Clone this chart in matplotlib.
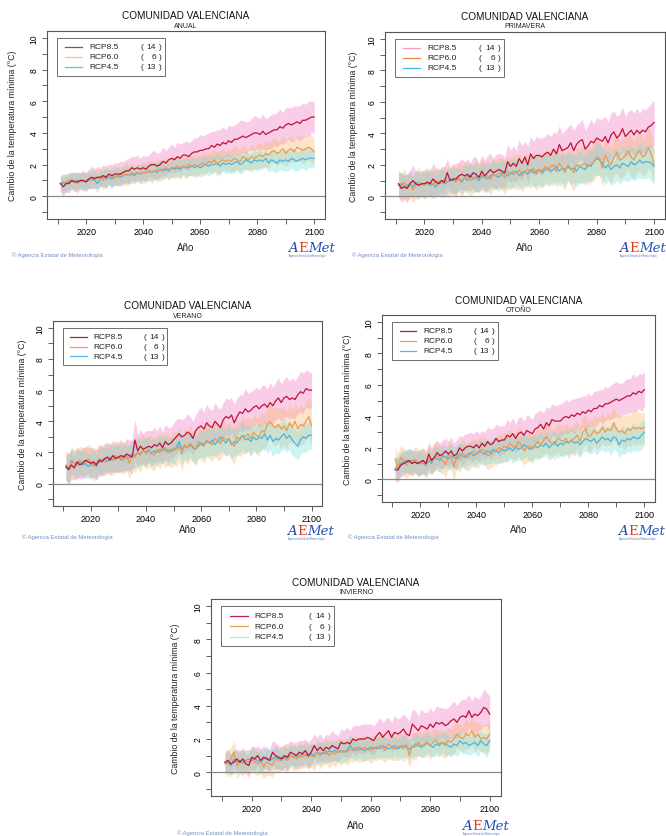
import matplotlib
matplotlib.use('Agg')
import matplotlib.pyplot as plt
from matplotlib.patches import Rectangle
import numpy as np

plt.rcParams['font.family'] = ['Liberation Sans', 'DejaVu Sans']

# ---------------- data ----------------
years = list(range(2011, 2101))
region = 'COMUNIDAD VALENCIANA'
scenarios = ['RCP8.5', 'RCP6.0', 'RCP4.5']
model_counts = [14, 6, 13]
seasons = ['ANUAL', 'PRIMAVERA', 'VERANO', 'OTOÑO', 'INVIERNO']
x_ticks = list(range(2010, 2101, 10))
x_labels = ['', '2020', '', '2040', '', '2060', '', '2080', '', '2100']
y_ticks = list(range(-1, 11))
y_labels = ['', '0', '', '2', '', '4', '', '6', '', '8', '', '10']

# ANUAL  (ensemble mean and half-width of the spread band, °C)
anual_85 = [0.8, 0.6, 0.8, 0.8, 1.0, 0.9, 0.9, 1.0, 1.0, 0.9,
            1.1, 1.2, 1.1, 1.2, 1.2, 1.3, 1.2, 1.4, 1.3, 1.4,
            1.4, 1.4, 1.5, 1.6, 1.6, 1.8, 1.7, 1.8, 1.7, 1.8,
            1.7, 1.9, 2.0, 2.0, 1.9, 2.0, 2.2, 2.1, 2.3, 2.4,
            2.3, 2.5, 2.4, 2.6, 2.6, 2.5, 2.7, 2.8, 2.8, 2.9,
            2.9, 3.0, 3.0, 3.2, 3.1, 3.3, 3.2, 3.4, 3.3, 3.5,
            3.4, 3.6, 3.6, 3.7, 3.8, 3.7, 3.8, 3.9, 4.0, 4.0,
            3.9, 4.1, 3.9, 4.0, 4.1, 4.2, 4.2, 4.4, 4.3, 4.5,
            4.6, 4.5, 4.6, 4.7, 4.6, 4.8, 4.8, 4.9, 5.0, 5.0]
anual_60 = [0.8, 0.8, 0.9, 1.0, 0.9, 1.0, 0.8, 1.0, 0.9, 1.0,
            1.1, 1.0, 1.2, 1.1, 1.2, 1.0, 1.3, 1.2, 1.2, 1.3,
            1.2, 1.4, 1.3, 1.4, 1.3, 1.5, 1.4, 1.5, 1.4, 1.5,
            1.5, 1.6, 1.5, 1.6, 1.7, 1.6, 1.7, 1.8, 1.7, 1.8,
            1.8, 1.9, 1.8, 1.9, 1.8, 2.0, 1.9, 2.0, 1.9, 2.0,
            2.1, 2.0, 2.2, 2.1, 2.3, 2.0, 2.2, 2.3, 2.2, 2.3,
            2.2, 2.4, 2.3, 2.2, 2.5, 2.4, 2.3, 2.5, 2.4, 2.5,
            2.6, 2.5, 2.7, 2.6, 2.8, 2.9, 2.7, 2.8, 3.0, 2.7,
            2.9, 3.0, 2.8, 3.1, 3.0, 2.9, 3.0, 3.1, 3.0, 2.8]
anual_45 = [0.8, 0.9, 0.8, 0.9, 1.0, 0.9, 1.0, 0.9, 1.0, 0.9,
            1.0, 1.1, 1.0, 0.8, 1.1, 1.2, 1.1, 1.2, 1.1, 1.2,
            1.3, 1.2, 1.3, 1.4, 1.3, 1.4, 1.3, 1.5, 1.4, 1.5,
            1.5, 1.6, 1.5, 1.6, 1.5, 1.7, 1.6, 1.7, 1.6, 1.8,
            1.7, 1.8, 1.7, 1.9, 1.8, 1.8, 1.9, 1.8, 1.9, 1.8,
            1.9, 2.0, 1.9, 2.0, 2.0, 2.1, 1.9, 2.1, 2.0, 2.1,
            2.0, 2.1, 2.2, 2.0, 2.1, 2.3, 2.2, 2.1, 2.3, 2.2,
            2.3, 2.2, 2.4, 2.1, 2.3, 2.2, 2.1, 2.3, 2.2, 2.3,
            2.2, 2.4, 2.3, 2.2, 2.3, 2.4, 2.3, 2.4, 2.4, 2.4]
anual_hw85 = [0.5, 0.6, 0.5, 0.6, 0.5, 0.6, 0.6, 0.5, 0.6, 0.6,
              0.6, 0.7, 0.6, 0.7, 0.6, 0.7, 0.7, 0.6, 0.7, 0.7,
              0.7, 0.8, 0.7, 0.7, 0.8, 0.7, 0.8, 0.8, 0.7, 0.8,
              0.8, 0.7, 0.8, 0.9, 0.8, 0.8, 0.9, 0.8, 0.8, 0.9,
              0.8, 0.9, 0.9, 0.8, 0.9, 0.9, 0.8, 0.9, 0.9, 1.0,
              0.9, 0.9, 1.0, 0.9, 1.0, 0.9, 1.0, 1.0, 0.9, 1.0,
              1.0, 0.9, 1.0, 1.1, 1.0, 1.0, 0.9, 1.0, 1.1, 1.0,
              1.0, 1.1, 1.0, 1.0, 1.1, 1.0, 1.1, 1.1, 1.0, 1.1,
              1.0, 1.1, 1.1, 1.0, 1.1, 1.1, 1.0, 1.1, 1.0, 1.0]
anual_hw60 = [0.5, 0.6, 0.5, 0.5, 0.6, 0.5, 0.7, 0.5, 0.6, 0.5,
              0.6, 0.5, 0.6, 0.6, 0.5, 0.6, 0.6, 0.5, 0.6, 0.6,
              0.6, 0.5, 0.6, 0.7, 0.6, 0.6, 0.5, 0.6, 0.6, 0.7,
              0.6, 0.6, 0.7, 0.6, 0.6, 0.7, 0.6, 0.6, 0.7, 0.6,
              0.7, 0.6, 0.7, 0.6, 0.7, 0.7, 0.6, 0.7, 0.7, 0.6,
              0.7, 0.7, 0.6, 0.7, 0.7, 0.8, 0.7, 0.7, 0.6, 0.7,
              0.7, 0.8, 0.7, 0.7, 0.8, 0.7, 0.7, 0.8, 0.7, 0.8,
              0.8, 0.7, 0.8, 0.8, 0.7, 0.8, 0.8, 0.7, 0.9, 0.8,
              0.8, 0.8, 0.7, 0.8, 0.8, 0.9, 0.8, 0.8, 0.9, 0.8]
anual_hw45 = [0.5, 0.5, 0.6, 0.5, 0.5, 0.6, 0.5, 0.5, 0.6, 0.5,
              0.5, 0.6, 0.5, 0.6, 0.5, 0.5, 0.6, 0.5, 0.6, 0.5,
              0.6, 0.5, 0.5, 0.6, 0.5, 0.6, 0.5, 0.5, 0.6, 0.5,
              0.5, 0.6, 0.5, 0.5, 0.6, 0.5, 0.6, 0.5, 0.5, 0.6,
              0.5, 0.6, 0.6, 0.5, 0.6, 0.5, 0.6, 0.6, 0.5, 0.6,
              0.6, 0.5, 0.6, 0.6, 0.5, 0.6, 0.6, 0.5, 0.6, 0.6,
              0.6, 0.6, 0.5, 0.6, 0.6, 0.6, 0.5, 0.6, 0.6, 0.6,
              0.6, 0.5, 0.6, 0.6, 0.6, 0.7, 0.6, 0.6, 0.6, 0.7,
              0.6, 0.6, 0.7, 0.6, 0.6, 0.6, 0.7, 0.6, 0.6, 0.6]

# PRIMAVERA
prim_85 = [0.8, 0.5, 0.6, 0.5, 0.8, 1.0, 0.8, 0.7, 0.8, 0.8,
           0.9, 0.8, 1.1, 0.9, 0.8, 1.0, 0.9, 1.5, 1.0, 1.1,
           1.1, 1.3, 1.4, 1.3, 1.4, 1.2, 1.5, 1.4, 1.2, 1.6,
           1.3, 1.5, 1.7, 1.5, 1.6, 1.7, 1.6, 1.5, 2.2, 1.9,
           2.1, 1.9, 2.4, 2.1, 2.5, 2.0, 2.7, 2.4, 2.6, 2.6,
           2.5, 2.7, 2.8, 2.6, 3.0, 2.7, 3.3, 2.9, 3.0, 3.1,
           3.4, 2.9, 3.3, 3.5, 3.6, 3.0, 3.2, 3.5, 3.4, 3.7,
           3.6, 3.5, 3.8, 3.4, 3.9, 4.1, 3.7, 3.9, 4.3, 3.8,
           4.0, 4.2, 3.9, 4.2, 4.0, 4.2, 4.1, 4.4, 4.5, 4.7]
prim_60 = [0.8, 0.6, 0.9, 0.5, 0.8, 0.4, 0.7, 0.9, 0.8, 0.7,
           0.8, 0.9, 0.7, 1.0, 0.9, 0.8, 1.1, 0.9, 1.0, 1.1,
           0.9, 1.2, 1.0, 1.2, 1.3, 1.0, 1.1, 1.3, 1.2, 1.4,
           1.2, 1.3, 1.1, 1.4, 1.3, 1.5, 1.4, 1.2, 1.6, 1.4,
           1.6, 1.5, 1.7, 1.3, 1.6, 1.7, 1.5, 1.8, 1.4, 1.7,
           1.6, 1.9, 1.7, 1.9, 2.0, 1.6, 2.1, 1.8, 1.5, 2.0,
           1.8, 1.5, 2.0, 1.9, 2.0, 2.1, 1.9, 2.0, 2.2, 2.5,
           2.4, 1.8, 2.6, 2.2, 2.0, 2.5, 2.8, 2.3, 2.4, 2.6,
           2.9, 2.5, 2.3, 2.7, 2.9, 2.5, 2.6, 3.1, 2.7, 2.0]
prim_45 = [0.7, 0.8, 0.6, 0.7, 0.8, 0.6, 0.9, 0.7, 0.8, 0.8,
           0.9, 0.7, 0.8, 0.6, 0.9, 1.0, 0.8, 0.9, 1.1, 1.0,
           1.0, 1.1, 0.9, 1.2, 1.0, 1.4, 1.1, 1.2, 1.0, 1.3,
           1.2, 1.1, 1.3, 1.4, 1.3, 1.2, 1.5, 1.4, 1.3, 1.5,
           1.4, 1.6, 1.3, 1.5, 1.6, 1.4, 1.7, 1.5, 1.6, 1.7,
           1.5, 1.7, 1.8, 1.6, 1.7, 1.9, 1.6, 1.8, 1.7, 1.9,
           1.7, 1.8, 1.6, 1.9, 1.8, 1.7, 2.0, 1.9, 2.2, 2.4,
           2.3, 2.1, 1.8, 2.0, 1.7, 1.9, 2.0, 1.8, 2.1, 2.0,
           1.9, 2.2, 2.0, 2.1, 2.3, 2.1, 2.2, 2.2, 2.1, 1.9]
prim_hw85 = [0.8, 0.9, 0.8, 0.9, 0.8, 1.0, 0.8, 0.9, 0.8, 0.9,
             0.9, 0.8, 1.0, 0.9, 0.8, 0.9, 1.0, 0.9, 0.8, 0.9,
             1.0, 0.9, 1.0, 0.9, 1.0, 0.9, 1.0, 1.1, 0.9, 1.0,
             1.0, 1.1, 1.0, 0.9, 1.1, 1.0, 1.1, 1.0, 1.1, 1.0,
             1.1, 1.0, 1.2, 1.1, 1.0, 1.2, 1.1, 1.1, 1.2, 1.1,
             1.2, 1.1, 1.2, 1.2, 1.1, 1.3, 1.2, 1.1, 1.2, 1.3,
             1.2, 1.3, 1.2, 1.2, 1.3, 1.2, 1.3, 1.4, 1.2, 1.3,
             1.3, 1.4, 1.3, 1.3, 1.4, 1.3, 1.4, 1.3, 1.4, 1.3,
             1.4, 1.3, 1.4, 1.4, 1.3, 1.4, 1.4, 1.3, 1.4, 1.4]
prim_hw60 = [0.9, 0.8, 0.9, 0.8, 0.9, 0.8, 0.9, 0.9, 0.8, 0.9,
             0.8, 0.9, 0.9, 0.8, 0.9, 0.9, 0.8, 0.9, 0.9, 1.0,
             0.9, 0.9, 1.0, 0.9, 0.9, 1.0, 0.9, 1.0, 0.9, 1.0,
             1.0, 0.9, 1.0, 1.0, 0.9, 1.0, 1.0, 1.1, 1.0, 1.0,
             1.0, 1.1, 1.0, 1.0, 1.1, 1.0, 1.0, 1.1, 1.0, 1.1,
             1.1, 1.0, 1.1, 1.1, 1.0, 1.1, 1.1, 1.2, 1.1, 1.0,
             1.1, 1.2, 1.1, 1.1, 1.2, 1.1, 1.2, 1.1, 1.2, 1.2,
             1.1, 1.2, 1.2, 1.1, 1.2, 1.2, 1.3, 1.2, 1.2, 1.2,
             1.2, 1.3, 1.2, 1.2, 1.3, 1.2, 1.2, 1.3, 1.2, 1.2]
prim_hw45 = [0.7, 0.8, 0.7, 0.7, 0.8, 0.7, 0.8, 0.7, 0.7, 0.8,
             0.7, 0.8, 0.8, 0.7, 0.8, 0.7, 0.8, 0.8, 0.7, 0.8,
             0.8, 0.7, 0.8, 0.8, 0.9, 0.8, 0.8, 0.9, 0.8, 0.8,
             0.8, 0.9, 0.8, 0.9, 0.8, 0.9, 0.9, 0.8, 0.9, 0.9,
             0.9, 0.8, 0.9, 0.9, 0.9, 0.8, 0.9, 0.9, 1.0, 0.9,
             0.9, 1.0, 0.9, 0.9, 1.0, 0.9, 1.0, 0.9, 1.0, 0.9,
             1.0, 0.9, 1.0, 1.0, 0.9, 1.0, 1.0, 1.0, 0.9, 1.0,
             1.0, 1.0, 1.1, 1.0, 1.0, 1.1, 1.0, 1.0, 1.1, 1.0,
             1.0, 1.1, 1.0, 1.0, 1.1, 1.0, 1.1, 1.0, 1.1, 1.1]

# VERANO
ver_85 = [1.1, 0.9, 1.2, 1.0, 1.4, 1.2, 1.3, 1.5, 1.4, 1.3,
          1.4, 1.2, 1.5, 1.4, 1.6, 1.7, 1.5, 1.8, 1.6, 1.7,
          1.8, 1.7, 1.9, 1.8, 1.7, 2.8, 2.1, 2.4, 2.2, 2.3,
          2.4, 2.3, 2.5, 2.4, 2.6, 2.3, 2.7, 2.5, 2.6, 2.8,
          3.0, 3.2, 3.0, 3.1, 3.3, 3.2, 2.9, 3.4, 3.6, 3.7,
          3.5, 3.9, 3.7, 3.6, 4.0, 3.8, 3.6, 4.1, 4.3, 4.2,
          4.4, 3.9, 4.3, 4.6, 4.5, 4.8, 4.6, 4.7, 4.9, 5.0,
          4.8, 5.0, 5.1, 4.9, 5.2, 5.0, 5.3, 5.5, 5.2, 5.5,
          5.6, 5.4, 5.5, 5.4, 5.7, 5.9, 5.8, 6.1, 6.0, 6.0]
ver_60 = [1.2, 1.0, 1.4, 1.3, 1.2, 1.5, 1.4, 1.3, 1.6, 1.4,
          1.1, 1.3, 1.6, 1.5, 1.4, 1.7, 1.6, 1.5, 1.8, 1.6,
          1.7, 1.5, 1.8, 1.3, 1.9, 1.7, 2.0, 1.8, 2.2, 1.9,
          2.1, 2.0, 1.8, 2.2, 2.0, 2.3, 2.1, 2.2, 2.0, 2.3,
          2.2, 2.4, 1.9, 2.5, 2.3, 2.6, 2.4, 2.2, 2.7, 2.5,
          2.4, 2.8, 2.6, 2.5, 2.9, 2.7, 2.6, 3.0, 2.8, 2.9,
          2.6, 2.4, 3.0, 2.8, 3.1, 3.0, 3.2, 2.9, 3.3, 3.1,
          3.0, 3.4, 3.3, 3.8, 4.0, 3.7, 3.6, 3.8, 3.5, 3.7,
          3.4, 3.9, 3.6, 4.0, 3.5, 3.8, 3.7, 4.0, 4.3, 3.7]
ver_45 = [1.0, 0.9, 1.5, 1.3, 1.2, 1.4, 1.2, 1.3, 1.1, 1.2,
          1.3, 1.1, 1.4, 1.5, 1.6, 1.4, 1.7, 1.5, 1.6, 1.7,
          1.5, 1.8, 1.6, 1.7, 1.9, 1.8, 2.0, 1.9, 2.1, 2.0,
          2.2, 1.9, 2.1, 2.0, 2.2, 2.1, 2.3, 2.0, 2.2, 2.1,
          2.3, 2.7, 2.2, 2.4, 2.3, 2.5, 2.3, 2.2, 2.4, 2.6,
          2.5, 2.7, 2.6, 2.8, 2.5, 2.7, 3.0, 2.8, 2.6, 2.9,
          2.5, 2.7, 2.6, 2.9, 3.1, 2.8, 2.9, 2.7, 3.0, 2.8,
          3.0, 2.9, 3.2, 2.8, 3.1, 2.7, 2.9, 2.8, 3.0, 3.2,
          2.9, 3.1, 2.8, 2.6, 2.4, 2.8, 3.0, 2.9, 3.1, 3.1]
ver_hw85 = [0.9, 1.0, 0.9, 0.8, 1.0, 0.9, 1.0, 0.9, 0.9, 1.0,
            0.9, 1.0, 1.0, 0.9, 1.0, 0.9, 1.0, 1.0, 0.9, 1.0,
            1.0, 0.9, 1.0, 1.0, 1.1, 1.3, 1.0, 1.1, 1.0, 1.1,
            1.0, 1.1, 1.1, 1.0, 1.1, 1.0, 1.1, 1.1, 1.0, 1.1,
            1.1, 1.0, 1.1, 1.1, 1.2, 1.1, 1.1, 1.0, 1.1, 1.2,
            1.1, 1.2, 1.1, 1.1, 1.2, 1.1, 1.2, 1.1, 1.2, 1.2,
            1.1, 1.2, 1.2, 1.1, 1.2, 1.3, 1.2, 1.2, 1.1, 1.2,
            1.2, 1.3, 1.2, 1.2, 1.3, 1.2, 1.2, 1.3, 1.2, 1.2,
            1.3, 1.2, 1.3, 1.2, 1.2, 1.3, 1.3, 1.2, 1.2, 1.1]
ver_hw60 = [0.9, 1.0, 0.9, 0.9, 1.0, 0.9, 0.9, 1.0, 0.9, 1.0,
            1.0, 0.9, 0.9, 1.0, 0.9, 1.0, 0.9, 1.0, 1.0, 0.9,
            1.0, 0.9, 1.0, 1.0, 0.9, 1.0, 1.0, 1.1, 1.0, 1.0,
            1.0, 1.1, 1.0, 1.0, 1.1, 1.0, 1.1, 1.0, 1.0, 1.1,
            1.1, 1.0, 1.1, 1.0, 1.1, 1.1, 1.0, 1.1, 1.1, 1.0,
            1.1, 1.1, 1.0, 1.1, 1.1, 1.2, 1.1, 1.1, 1.0, 1.1,
            1.1, 1.2, 1.1, 1.1, 1.2, 1.1, 1.1, 1.2, 1.1, 1.2,
            1.2, 1.1, 1.2, 1.2, 1.1, 1.2, 1.2, 1.1, 1.3, 1.2,
            1.2, 1.2, 1.1, 1.2, 1.2, 1.3, 1.2, 1.2, 1.3, 1.2]
ver_hw45 = [0.8, 0.9, 0.8, 0.8, 0.9, 0.8, 0.8, 0.9, 0.8, 0.8,
            0.9, 0.8, 0.8, 0.9, 0.8, 0.8, 0.9, 0.8, 0.9, 0.8,
            0.8, 0.9, 0.8, 0.8, 0.9, 0.8, 0.9, 0.8, 0.8, 0.9,
            0.8, 0.8, 0.9, 0.8, 0.9, 0.8, 0.8, 0.9, 0.8, 0.9,
            0.8, 0.9, 0.9, 0.8, 0.9, 0.8, 0.9, 0.9, 0.8, 0.9,
            0.9, 0.8, 0.9, 0.9, 0.8, 0.9, 0.9, 0.8, 0.9, 0.9,
            0.9, 0.9, 0.8, 0.9, 0.9, 0.9, 0.8, 0.9, 0.9, 0.9,
            0.9, 0.8, 0.9, 0.9, 0.9, 1.0, 0.9, 0.9, 0.9, 1.0,
            0.9, 0.9, 1.0, 0.9, 0.9, 0.9, 1.0, 0.9, 0.9, 0.9]

# OTOÑO
oto_85 = [0.6, 0.6, 0.9, 1.0, 1.1, 1.2, 1.0, 1.1, 1.0, 1.1,
          1.2, 1.0, 1.6, 1.2, 1.4, 1.7, 1.5, 1.6, 1.8, 1.6,
          1.8, 1.5, 1.6, 2.0, 1.8, 2.0, 2.1, 2.1, 2.0, 2.2,
          2.0, 2.3, 2.1, 2.4, 2.2, 2.3, 2.6, 2.4, 2.5, 2.5,
          2.8, 2.7, 2.9, 2.6, 2.9, 3.0, 2.8, 3.1, 3.0, 2.9,
          3.2, 3.3, 3.5, 3.2, 3.6, 3.4, 3.8, 3.7, 3.7, 3.7,
          3.9, 4.0, 3.9, 4.1, 4.0, 4.2, 4.1, 4.3, 4.2, 4.4,
          4.3, 4.5, 4.5, 4.7, 4.6, 4.8, 4.8, 4.9, 5.0, 5.1,
          5.0, 5.1, 5.2, 5.3, 5.3, 5.5, 5.4, 5.6, 5.5, 5.7]
oto_60 = [1.3, 0.7, 1.4, 1.2, 0.9, 1.1, 1.0, 1.3, 1.1, 1.0,
          1.2, 0.9, 1.3, 1.1, 1.4, 1.5, 1.3, 1.2, 0.9, 1.6,
          1.4, 0.8, 1.5, 1.3, 1.7, 1.5, 1.4, 1.6, 1.8, 1.6,
          1.7, 1.9, 1.8, 1.5, 1.6, 1.7, 1.8, 2.0, 1.9, 2.1,
          2.0, 2.3, 2.1, 2.0, 2.4, 2.2, 1.8, 2.0, 2.1, 1.9,
          2.2, 2.4, 2.2, 2.5, 2.7, 2.4, 2.3, 2.2, 2.6, 2.5,
          2.4, 2.6, 2.3, 2.5, 2.6, 2.8, 2.4, 3.0, 3.2, 2.7,
          2.8, 3.1, 2.9, 3.0, 3.3, 3.0, 3.2, 3.1, 3.6, 3.2,
          3.0, 3.1, 2.9, 3.2, 3.1, 3.3, 3.2, 3.3, 3.2, 3.3]
oto_45 = [0.7, 0.8, 1.0, 1.1, 1.2, 1.1, 1.2, 1.1, 1.0, 1.1,
          1.0, 0.9, 1.2, 1.0, 1.4, 1.3, 1.2, 1.5, 1.4, 1.3,
          1.5, 1.4, 1.3, 1.6, 1.5, 1.4, 1.6, 1.7, 1.5, 1.6,
          1.8, 1.7, 1.6, 1.8, 1.7, 1.9, 1.8, 1.7, 1.9, 1.8,
          1.9, 2.0, 1.8, 2.1, 1.9, 2.0, 2.2, 2.1, 1.9, 2.0,
          2.1, 2.0, 2.2, 2.1, 2.3, 2.0, 2.2, 2.4, 2.1, 2.3,
          2.2, 2.4, 2.3, 2.5, 2.3, 2.4, 2.2, 2.4, 2.6, 2.5,
          2.4, 2.6, 2.3, 2.5, 2.7, 2.5, 2.6, 2.4, 2.7, 2.6,
          2.2, 2.5, 2.4, 2.6, 2.5, 2.7, 2.6, 2.6, 2.8, 3.0]
oto_hw85 = [0.7, 0.8, 0.7, 0.8, 0.7, 0.8, 0.8, 0.7, 0.8, 0.8,
            0.8, 0.7, 0.8, 0.8, 0.9, 0.8, 0.8, 0.9, 0.8, 0.8,
            0.9, 0.8, 0.9, 0.8, 0.9, 0.9, 0.8, 0.9, 0.9, 0.9,
            0.9, 0.8, 0.9, 0.9, 1.0, 0.9, 0.9, 1.0, 0.9, 0.9,
            1.0, 0.9, 1.0, 0.9, 1.0, 1.0, 0.9, 1.0, 1.0, 0.9,
            1.0, 1.0, 0.9, 1.0, 1.0, 1.1, 1.0, 1.0, 1.0, 1.1,
            1.0, 1.1, 1.0, 1.0, 1.1, 1.0, 1.1, 1.0, 1.1, 1.1,
            1.0, 1.1, 1.1, 1.0, 1.1, 1.1, 1.0, 1.1, 1.1, 1.1,
            1.1, 1.0, 1.1, 1.1, 1.1, 1.2, 1.1, 1.1, 1.2, 1.1]
oto_hw60 = [0.8, 0.9, 0.8, 0.8, 0.9, 0.8, 0.8, 0.8, 0.9, 0.8,
            0.8, 0.9, 0.8, 0.8, 0.9, 0.8, 0.9, 0.8, 0.8, 0.9,
            0.8, 0.9, 0.8, 0.9, 0.9, 0.8, 0.9, 0.9, 0.8, 0.9,
            0.9, 0.8, 0.9, 0.9, 0.9, 0.8, 0.9, 0.9, 0.9, 0.9,
            0.9, 0.9, 0.8, 0.9, 0.9, 1.0, 0.9, 0.9, 0.9, 0.9,
            0.9, 1.0, 0.9, 0.9, 1.0, 0.9, 0.9, 1.0, 0.9, 1.0,
            0.9, 1.0, 1.0, 0.9, 1.0, 0.9, 1.0, 1.0, 0.9, 1.0,
            1.0, 0.9, 1.0, 1.0, 1.0, 0.9, 1.0, 1.0, 1.1, 1.0,
            1.0, 1.0, 1.1, 1.0, 1.0, 1.0, 1.1, 1.0, 1.0, 1.0]
oto_hw45 = [0.7, 0.7, 0.8, 0.7, 0.7, 0.8, 0.7, 0.7, 0.7, 0.8,
            0.7, 0.7, 0.8, 0.7, 0.7, 0.8, 0.7, 0.8, 0.7, 0.7,
            0.8, 0.7, 0.7, 0.8, 0.7, 0.8, 0.7, 0.7, 0.8, 0.7,
            0.7, 0.8, 0.7, 0.8, 0.7, 0.8, 0.8, 0.7, 0.8, 0.7,
            0.8, 0.7, 0.8, 0.8, 0.7, 0.8, 0.8, 0.7, 0.8, 0.8,
            0.7, 0.8, 0.8, 0.7, 0.8, 0.8, 0.8, 0.7, 0.8, 0.8,
            0.8, 0.8, 0.7, 0.8, 0.8, 0.8, 0.8, 0.7, 0.8, 0.8,
            0.8, 0.8, 0.8, 0.7, 0.8, 0.8, 0.8, 0.9, 0.8, 0.8,
            0.8, 0.9, 0.8, 0.8, 0.8, 0.9, 0.8, 0.8, 0.9, 0.8]

# INVIERNO
inv_85 = [0.6, 0.7, 0.5, 0.6, 0.8, 0.6, 0.8, 0.5, 0.4, 0.9,
          0.8, 1.0, 0.7, 0.9, 0.8, 0.7, 1.2, 1.0, 0.9, 0.8,
          1.0, 0.9, 1.2, 1.1, 1.0, 1.2, 1.1, 1.3, 1.0, 1.2,
          1.6, 1.3, 1.5, 1.3, 1.5, 1.4, 1.6, 1.5, 1.4, 1.8,
          1.7, 1.8, 1.7, 2.0, 1.9, 2.0, 2.0, 2.0, 2.1, 2.0,
          1.9, 2.2, 2.4, 2.1, 2.3, 2.5, 2.1, 2.4, 2.3, 2.4,
          2.6, 2.3, 2.2, 2.9, 2.7, 2.5, 2.8, 2.7, 2.6, 2.9,
          2.7, 3.0, 2.9, 3.0, 2.8, 2.9, 3.1, 3.2, 3.0, 3.3,
          3.4, 3.3, 3.7, 3.3, 3.5, 3.4, 3.6, 3.9, 3.8, 3.5]
inv_60 = [0.6, 0.5, 0.8, 1.2, 0.4, 0.6, 0.5, 0.7, 0.6, 0.8,
          0.6, 0.5, 0.7, 0.3, 0.6, 0.5, 0.4, 0.8, 0.7, 0.9,
          0.8, 0.7, 1.0, 0.9, 0.8, 1.0, 0.9, 1.1, 0.9, 1.0,
          0.9, 1.2, 1.0, 1.1, 1.3, 1.0, 1.2, 1.1, 1.3, 1.2,
          1.3, 1.2, 1.4, 1.3, 1.5, 1.3, 1.4, 1.5, 1.4, 1.3,
          1.5, 1.4, 1.6, 1.5, 1.3, 1.7, 1.5, 1.4, 1.5, 1.6,
          1.4, 1.7, 1.0, 1.6, 1.5, 1.8, 1.6, 1.7, 1.8, 1.6,
          1.8, 1.9, 1.7, 1.8, 1.6, 1.9, 1.8, 2.0, 2.3, 2.1,
          2.0, 2.3, 2.2, 2.5, 2.1, 2.3, 2.0, 2.1, 2.0, 2.3]
inv_45 = [0.5, 0.6, 0.4, 0.8, 0.6, 0.7, 0.6, 0.7, 0.8, 0.7,
          0.8, 0.7, 0.6, 0.8, 0.9, 0.7, 0.8, 0.9, 0.8, 0.7,
          0.9, 0.8, 1.0, 0.9, 1.0, 0.9, 1.1, 1.0, 1.0, 1.1,
          1.0, 1.2, 1.1, 1.2, 1.1, 1.3, 1.2, 1.3, 1.2, 1.3,
          1.2, 1.3, 1.6, 1.4, 1.3, 1.5, 1.4, 1.3, 1.4, 1.5,
          1.4, 1.5, 1.4, 1.6, 1.5, 1.4, 1.5, 1.6, 1.4, 1.5,
          1.6, 1.5, 1.4, 1.5, 1.7, 1.6, 1.5, 1.6, 1.8, 1.6,
          1.5, 1.7, 1.6, 1.8, 1.7, 1.6, 1.5, 1.7, 1.6, 1.9,
          1.7, 1.8, 1.6, 1.7, 1.8, 1.6, 1.9, 1.7, 1.6, 1.9]
inv_hw85 = [0.6, 0.7, 0.6, 0.7, 0.6, 0.7, 0.7, 0.6, 0.7, 0.7,
            0.7, 0.6, 0.7, 0.7, 0.6, 0.7, 0.7, 0.8, 0.7, 0.7,
            0.7, 0.8, 0.7, 0.7, 0.8, 0.7, 0.8, 0.7, 0.8, 0.8,
            0.7, 0.8, 0.8, 0.7, 0.8, 0.8, 0.9, 0.8, 0.8, 0.8,
            0.8, 0.9, 0.8, 0.8, 0.9, 0.8, 0.9, 0.9, 0.8, 0.9,
            0.9, 0.8, 0.9, 0.9, 0.9, 0.8, 0.9, 1.0, 0.9, 0.9,
            0.9, 1.0, 0.9, 0.9, 1.0, 0.9, 1.0, 0.9, 1.0, 1.0,
            0.9, 1.0, 1.0, 0.9, 1.0, 1.0, 1.0, 1.1, 1.0, 1.0,
            1.0, 1.1, 1.0, 1.0, 1.1, 1.0, 1.0, 1.1, 1.0, 1.1]
inv_hw60 = [0.7, 0.8, 0.7, 0.7, 0.8, 0.7, 0.8, 0.7, 0.7, 0.8,
            0.7, 0.7, 0.8, 0.7, 0.8, 0.7, 0.7, 0.8, 0.7, 0.7,
            0.8, 0.7, 0.7, 0.8, 0.7, 0.8, 0.7, 0.8, 0.7, 0.7,
            0.8, 0.7, 0.8, 0.7, 0.8, 0.8, 0.7, 0.8, 0.7, 0.8,
            0.7, 0.8, 0.8, 0.7, 0.8, 0.7, 0.8, 0.8, 0.7, 0.8,
            0.8, 0.7, 0.8, 0.8, 0.7, 0.8, 0.8, 0.7, 0.8, 0.8,
            0.8, 0.8, 0.7, 0.8, 0.8, 0.8, 0.7, 0.8, 0.8, 0.8,
            0.8, 0.7, 0.8, 0.8, 0.8, 0.8, 0.8, 0.9, 0.8, 0.8,
            0.8, 0.9, 0.8, 0.8, 0.9, 0.8, 0.8, 0.8, 0.9, 0.8]
inv_hw45 = [0.6, 0.6, 0.7, 0.6, 0.6, 0.6, 0.7, 0.6, 0.6, 0.6,
            0.7, 0.6, 0.6, 0.6, 0.7, 0.6, 0.6, 0.7, 0.6, 0.6,
            0.6, 0.7, 0.6, 0.6, 0.6, 0.7, 0.6, 0.6, 0.7, 0.6,
            0.6, 0.6, 0.7, 0.6, 0.6, 0.7, 0.6, 0.6, 0.6, 0.7,
            0.6, 0.6, 0.7, 0.6, 0.6, 0.6, 0.7, 0.6, 0.6, 0.7,
            0.6, 0.6, 0.6, 0.7, 0.6, 0.6, 0.7, 0.6, 0.6, 0.6,
            0.7, 0.6, 0.6, 0.6, 0.7, 0.6, 0.6, 0.7, 0.6, 0.6,
            0.6, 0.7, 0.6, 0.6, 0.7, 0.6, 0.6, 0.6, 0.7, 0.6,
            0.6, 0.7, 0.6, 0.6, 0.6, 0.7, 0.6, 0.6, 0.7, 0.6]

means = [[anual_85, anual_60, anual_45],
         [prim_85, prim_60, prim_45],
         [ver_85, ver_60, ver_45],
         [oto_85, oto_60, oto_45],
         [inv_85, inv_60, inv_45]]
halfw = [[anual_hw85, anual_hw60, anual_hw45],
         [prim_hw85, prim_hw60, prim_hw45],
         [ver_hw85, ver_hw60, ver_hw45],
         [oto_hw85, oto_hw60, oto_hw45],
         [inv_hw85, inv_hw60, inv_hw45]]

# ---------------- style / layout ----------------
line_colors = ['#BE1238', '#EE9A4D', '#48B4E4']
fill_colors = ['#F07CC4', '#F7B466', '#6ADCDC']
fill_alpha = [0.38, 0.35, 0.33]
legend_colors = [['#B03A5B', '#F0C878', '#50C8E0'],
                 ['#F4A0C0', '#E89040', '#40B8E8'],
                 ['#B0203C', '#F0A050', '#50B8E8'],
                 ['#B0203C', '#F0A050', '#50B8E8'],
                 ['#C02040', '#F0A040', '#B0E8F0']]

W, H = 666, 837
# per panel: axes (left, top, right, bottom) px, title y, subtitle y, xlabel y,
# ylabel x, footer (x, y), logo (x, baseline y)
layout = [
    dict(ax=(47, 32, 325, 220), t=16, s=26, xl=248, yl=13, ft=(12, 255), lg=(288, 252)),
    dict(ax=(385, 33, 665, 220), t=17, s=27, xl=248, yl=353, ft=(352, 255), lg=(619, 252)),
    dict(ax=(53, 322, 322, 507), t=306, s=317, xl=530, yl=23, ft=(22, 537), lg=(287, 535)),
    dict(ax=(382, 316, 655, 503), t=301, s=311, xl=530, yl=348, ft=(348, 537), lg=(618, 535)),
    dict(ax=(211, 600, 501, 797), t=583, s=593, xl=826, yl=176, ft=(177, 833), lg=(462, 830)),
]

fig = plt.figure(figsize=(W / 100, H / 100), dpi=100)
renderer = fig.canvas.get_renderer()


def fx(x):
    return x / W


def fy(y):
    return 1 - y / H


def draw_logo(x, y):
    parts = [('A', '#22409A', 'italic'), ('E', '#E23A1E', 'normal'),
             ('Met', '#2455B5', 'italic')]
    cur = x
    for txt, col, sty in parts:
        tt = fig.text(fx(cur), fy(y), txt, color=col, fontsize=9.5, style=sty,
                      family='DejaVu Serif', va='baseline', ha='left')
        bb = tt.get_window_extent(renderer)
        cur += bb.width + 0.5
    fig.text(fx(x + 1), fy(y + 4), 'Agencia Estatal de Meteorología', color='#5070B0',
             fontsize=1.8, va='center')


for i, season in enumerate(seasons):
    L = layout[i]
    l, t, r, b = L['ax']
    ax = fig.add_axes([fx(l), fy(b), (r - l) / W, (b - t) / H])
    yrs = np.array(years)
    for k in range(3):
        m = np.array(means[i][k])
        hw = np.array(halfw[i][k])
        ax.fill_between(yrs, m - hw, m + hw, color=fill_colors[k],
                        alpha=fill_alpha[k], lw=0, zorder=1 + k)
    ax.axhline(0, color='#8A8A8A', lw=0.9, zorder=5)
    for k in [2, 1, 0]:
        ax.plot(yrs, means[i][k], color=line_colors[k], lw=0.9, zorder=6 + (2 - k))
    ax.set_xlim(2006.3, 2103.8)
    ax.set_ylim(-1.44, 10.44)
    ax.set_xticks(x_ticks)
    ax.set_xticklabels(x_labels, fontsize=6.5)
    ax.set_yticks(y_ticks)
    ax.set_yticklabels(y_labels, fontsize=6.2, rotation=90, va='center')
    ax.tick_params(length=3.5, width=0.6, color='#444444', pad=2.5)
    for sp in ax.spines.values():
        sp.set_color('#555555')
        sp.set_linewidth(0.8)

    # legend box
    ax.add_patch(Rectangle((0.036, 0.761), 0.388, 0.202, transform=ax.transAxes,
                           facecolor='white', edgecolor='#555555', lw=0.6, zorder=10))
    ys = [0.915, 0.862, 0.809]
    for k in range(3):
        ax.plot([0.065, 0.126], [ys[k], ys[k]], transform=ax.transAxes,
                color=legend_colors[i][k], lw=0.9, zorder=11)
        ax.text(0.151, ys[k], scenarios[k], transform=ax.transAxes, fontsize=6,
                va='center', ha='left', zorder=11, color='#222222')
        ax.text(0.335, ys[k], '(', transform=ax.transAxes, fontsize=6,
                va='center', ha='left', zorder=11, color='#222222')
        ax.text(0.392, ys[k], str(model_counts[k]), transform=ax.transAxes, fontsize=6,
                va='center', ha='right', zorder=11, color='#222222')
        ax.text(0.404, ys[k], ')', transform=ax.transAxes, fontsize=6,
                va='center', ha='left', zorder=11, color='#222222')

    cx = fx((l + r) / 2)
    fig.text(cx, fy(L['t']), region, ha='center', va='center', fontsize=7.2,
             color='#111111')
    fig.text(cx, fy(L['s']), season, ha='center', va='center', fontsize=5,
             color='#222222')
    fig.text(cx, fy(L['xl']), 'Año', ha='center', va='center', fontsize=7,
             color='#222222')
    fig.text(fx(L['yl']), fy((t + b) / 2), 'Cambio de la temperatura mínima (°C)',
             ha='center', va='center', rotation=90, fontsize=6.3, color='#222222')
    fig.text(fx(L['ft'][0]), fy(L['ft'][1]), '© Agencia Estatal de Meteorología',
             ha='left', va='center', fontsize=4.2, color='#7090C0')
    draw_logo(*L['lg'])

fig.savefig('out.png', dpi=100, facecolor='white')
